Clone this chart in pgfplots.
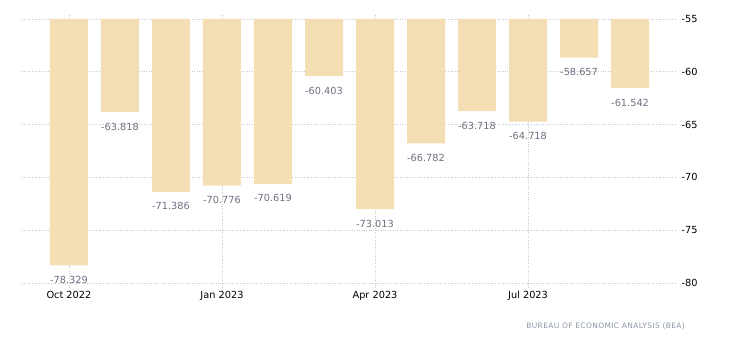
\documentclass[border=0pt]{standalone}
\usepackage{pgfplots}
\pgfplotsset{compat=1.18}
\usepackage{fontspec}
\setmainfont{DejaVu Sans}
\definecolor{barc}{HTML}{F4DEB4}
\definecolor{lblc}{HTML}{6C7080}
\definecolor{gridc}{HTML}{C8C8C8}
\definecolor{srcc}{HTML}{8A96A6}
\begin{document}
\begin{tikzpicture}[x=1bp,y=1bp]
\path[use as bounding box] (0,0) rectangle (730,351);
\begin{axis}[
  at={(22bp,68bp)}, anchor=south west,
  scale only axis, width=655bp, height=264bp,
  xmin=-0.92, xmax=11.92, ymin=-80, ymax=-55,
  ybar, bar width=38bp,
  axis line style={draw=none},
  xtick={0,3,6,9},
  xticklabels={Oct 2022,Jan 2023,Apr 2023,Jul 2023},
  ytick={-80,-75,-70,-65,-60,-55},
  yticklabel pos=right,
  /pgf/number format/assume math mode=true,
  yticklabel style={font=\fontsize{9.8}{11}\selectfont, xshift=-3bp},
  xticklabel style={font=\fontsize{9.8}{11}\selectfont, yshift=-1bp},
  ymajorgrids, xmajorgrids,
  grid style={gridc, dotted, line width=0.8pt},
  tick align=outside,
  xtick style={gridc, dotted, line width=0.8pt},
  major tick length=4bp,
  ytick style={draw=none},
  point meta=explicit symbolic,
  nodes near coords,
  nodes near coords style={anchor=north, inner sep=0pt, yshift=-10.5bp, font=\fontsize{9.8}{11}\selectfont, text=lblc},
  clip=true,
]
\addplot[fill=barc, draw=none] coordinates {
(0,-78.329) [-78.329]
(1,-63.818) [-63.818]
(2,-71.386) [-71.386]
(3,-70.776) [-70.776]
(4,-70.619) [-70.619]
(5,-60.403) [-60.403]
(6,-73.013) [-73.013]
(7,-66.782) [-66.782]
(8,-63.718) [-63.718]
(9,-64.718) [-64.718]
(10,-58.657) [-58.657]
(11,-61.542) [-61.542]
};
\end{axis}
\node[anchor=east, inner sep=0pt, text=srcc, font=\fontsize{7.5}{8}\selectfont\addfontfeatures{LetterSpace=5}] at (685,25) {BUREAU OF ECONOMIC ANALYSIS (BEA)};
\end{tikzpicture}
\end{document}
